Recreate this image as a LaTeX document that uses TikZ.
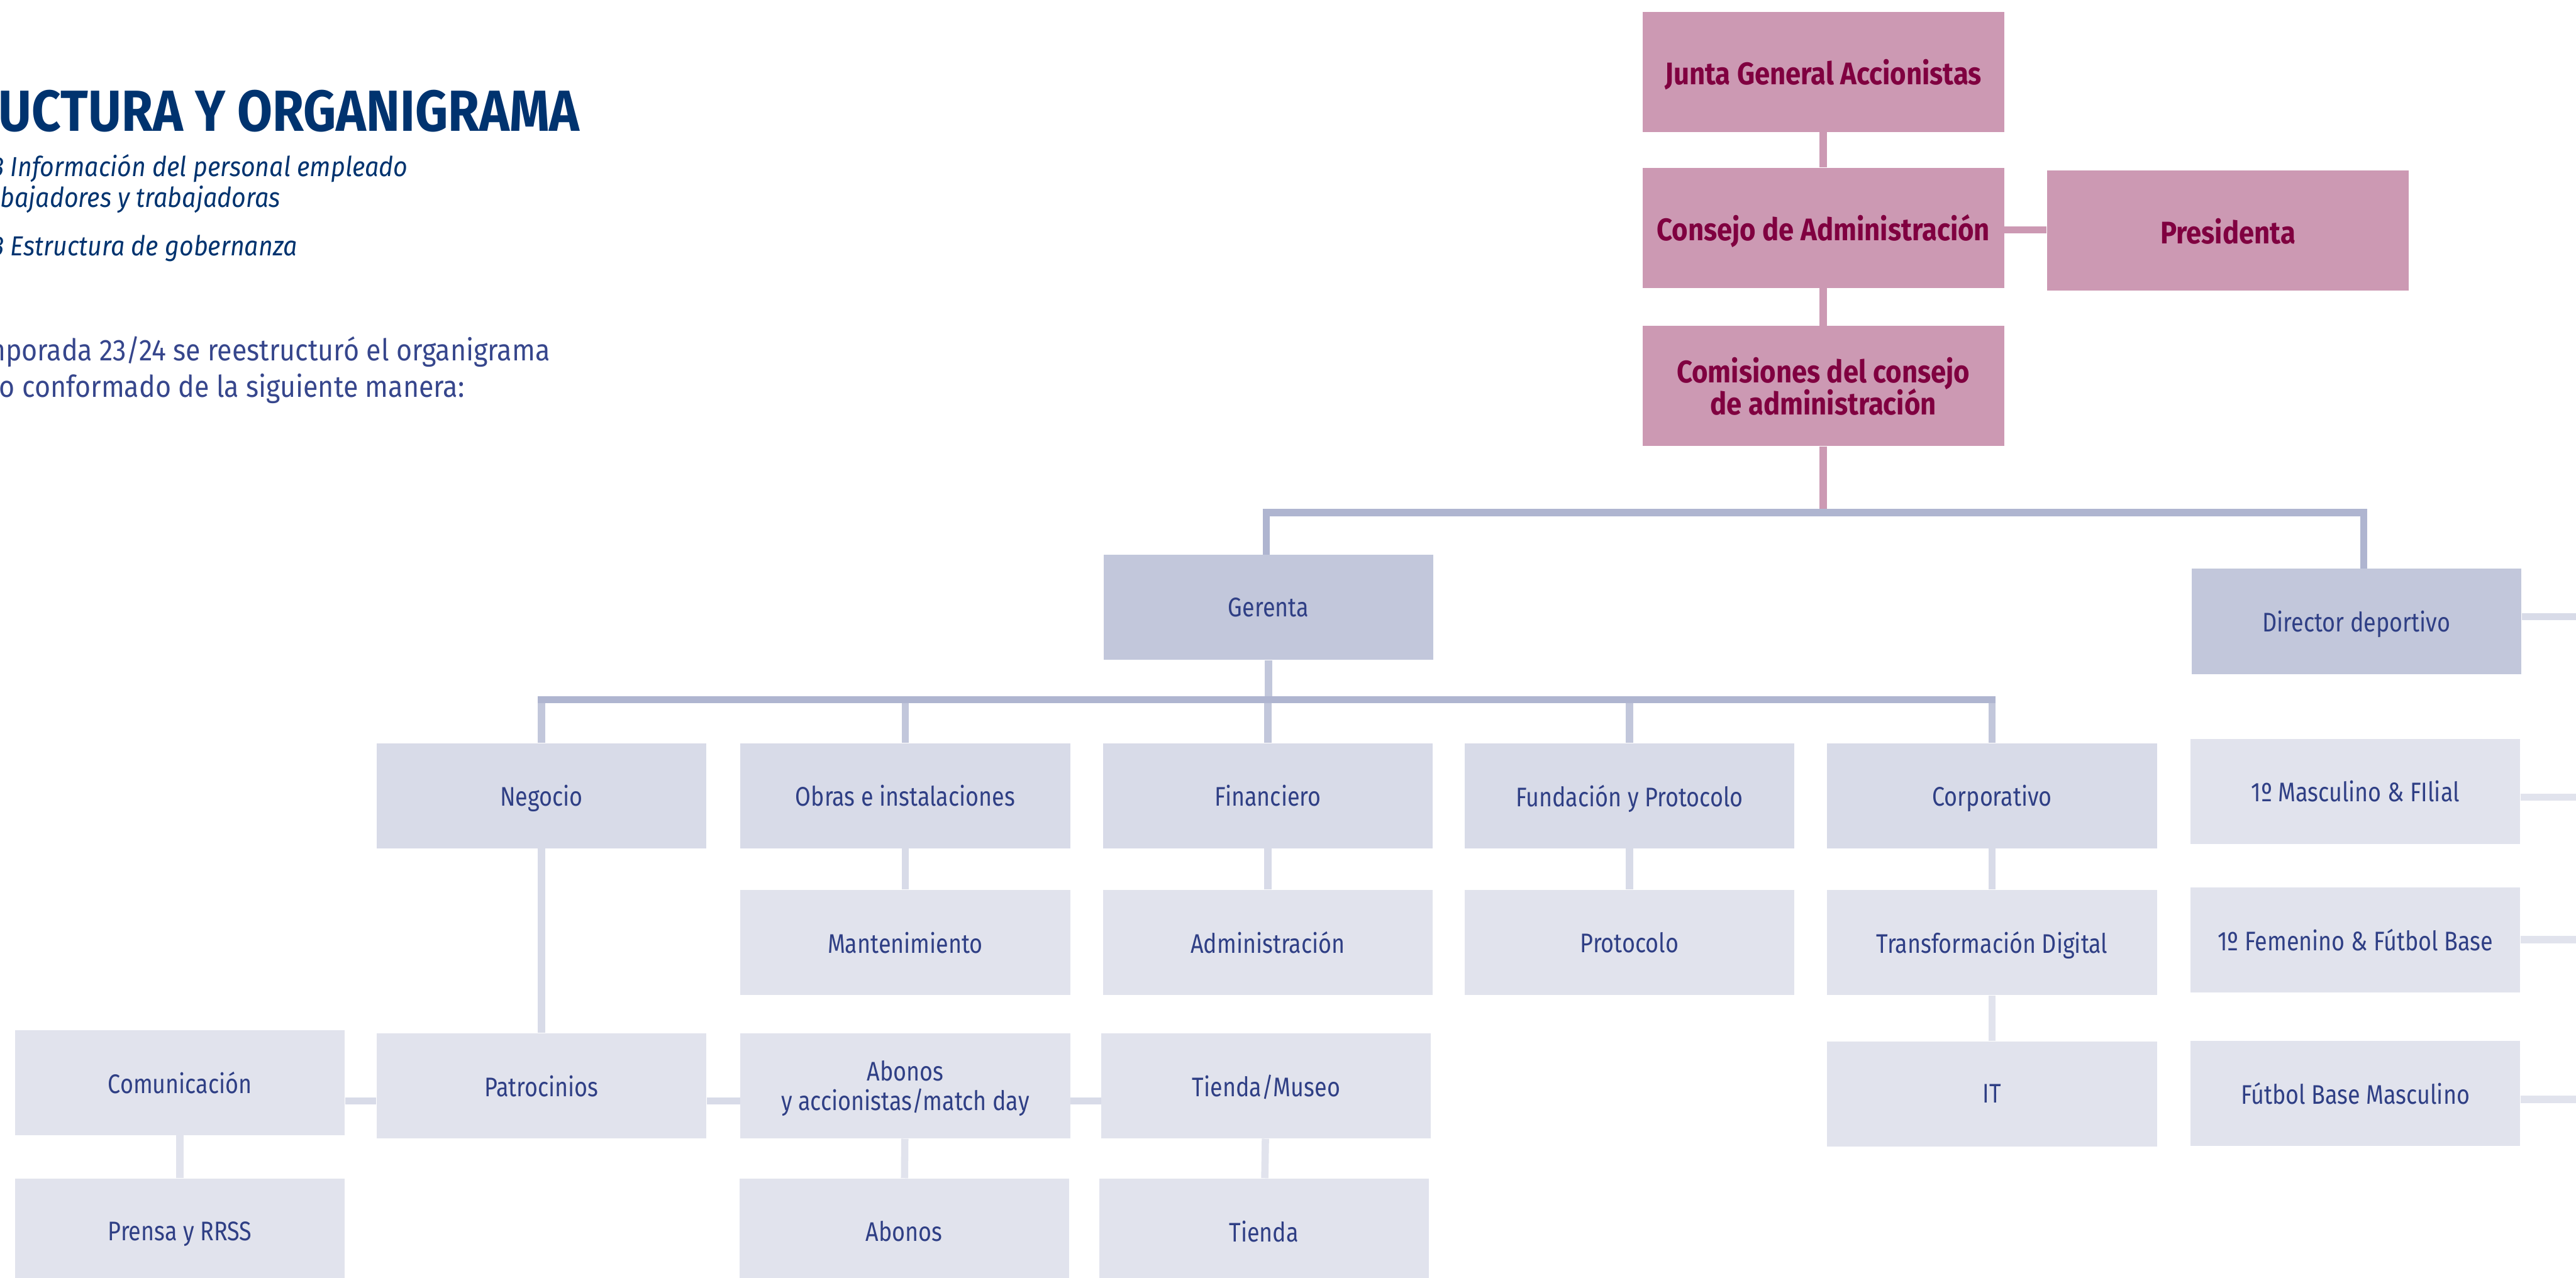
\documentclass[tikz,border=0pt]{standalone}
\usepackage{fontspec}
\setmainfont{Fira Sans}
\newfontfamily\boxfont[FakeStretch=0.84]{Fira Sans}
\newfontfamily\headfont[FakeStretch=0.88]{Fira Sans}
\newfontfamily\parafont[FakeStretch=0.90]{Fira Sans}
\usepackage{tikz}
\usetikzlibrary{calc}

\definecolor{colNavy}{HTML}{00336F}
\definecolor{colText}{HTML}{2F3F85}
\definecolor{colPar}{HTML}{36468C}
\definecolor{colRose}{HTML}{CC99B3}
\definecolor{colRoseText}{HTML}{800040}
\definecolor{colTop}{HTML}{C2C7DB}
\definecolor{colMid}{HTML}{D8DBE8}
\definecolor{colLow}{HTML}{E1E3ED}
\definecolor{colBar}{HTML}{AFB5D0}

\begin{document}
\begin{tikzpicture}[
    box/.style={fill=colLow, minimum width=5.9cm, minimum height=1.88cm, inner sep=0pt,
        text depth=-0.12cm, text=colText, align=center,
        font=\boxfont\fontsize{13.7}{15}\selectfont},
    midbox/.style={box, fill=colMid},
    topbox/.style={box, fill=colTop},
    pinkbox/.style={box, fill=colRose, minimum width=6.47cm, minimum height=2.15cm,
        text depth=-0.18cm, text=colRoseText,
        font=\headfont\bfseries\fontsize{15.9}{15}\selectfont},
    lefttext/.style={anchor=base west, inner sep=0pt, text=colNavy},
    link/.style={line width=0.13cm, draw=#1},
    link/.default=colTop]

    \useasboundingbox (0,0) rectangle (46.10,-22.87);
    \clip (0,0) rectangle (46.10,-22.87);

    % the texts on the left
    \node[lefttext, font=\headfont\bfseries\fontsize{29.5}{32}\selectfont] (titulo) at (-0.03,-2.35) {UCTURA Y ORGANIGRAMA};
    \node[lefttext, font=\parafont\itshape\fontsize{14}{16}\selectfont] (sub1) at (-0.15,-3.16) {3 Información del personal empleado};
    \node[lefttext, font=\parafont\itshape\fontsize{14}{16}\selectfont] (sub2) at (0,-3.71) {bajadores y trabajadoras};
    \node[lefttext, font=\parafont\itshape\fontsize{14}{16}\selectfont] (sub3) at (-0.15,-4.57) {3 Estructura de gobernanza};
    \node[lefttext, text=colPar, font=\parafont\fontsize{15.3}{18}\selectfont] (par1) at (-0.32,-6.46) {mporada 23/24 se reestructuró el organigrama};
    \node[lefttext, text=colPar, font=\parafont\fontsize{15.3}{18}\selectfont] (par2) at (-0.02,-7.11) {o conformado de la siguiente manera:};

    % the governing bodies
    \node[pinkbox] (junta) at (32.63,-1.285) {Junta General Accionistas};
    \node[pinkbox] (consejo) at (32.63,-4.075) {Consejo de Administración};
    \node[pinkbox, text depth=0pt] (presidenta) at (39.87,-4.13) {Presidenta};
    \node[pinkbox] (comisiones) at (32.63,-6.91) {Comisiones del consejo\\[-1.6pt]de administración};

    % the two heads
    \node[topbox] (gerenta) at (22.70,-10.87) {Gerenta};
    \node[topbox] (director) at (42.17,-11.12) {Director deportivo};

    % the areas under the gerenta
    \node[midbox] (negocio) at (9.69,-14.24) {Negocio};
    \node[midbox] (obras) at (16.20,-14.24) {Obras e instalaciones};
    \node[midbox] (financiero) at (22.69,-14.24) {Financiero};
    \node[midbox] (fundacion) at (29.16,-14.24) {Fundación y Protocolo};
    \node[midbox] (corporativo) at (35.65,-14.24) {Corporativo};
    %
    \node[box] (mantenimiento) at (16.20,-16.865) {Mantenimiento};
    \node[box] (administracion) at (22.69,-16.865) {Administración};
    \node[box] (protocolo) at (29.16,-16.865) {Protocolo};
    \node[box] (transformacion) at (35.65,-16.865) {Transformación Digital};
    \node[box] (it) at (35.65,-19.575) {IT};
    %
    \node[box] (comunicacion) at (3.22,-19.37) {Comunicación};
    \node[box] (patrocinios) at (9.69,-19.43) {Patrocinios};
    \node[box] (abonosacc) at (16.20,-19.43) {Abonos\\y accionistas/match day};
    \node[box] (tiendamuseo) at (22.66,-19.43) {Tienda/Museo};
    \node[box] (prensa) at (3.22,-22.03) {Prensa y RRSS};
    \node[box] (abonos) at (16.18,-22.03) {Abonos};
    \node[box] (tienda) at (22.62,-22.03) {Tienda};

    % the sports side
    \node[box] (masculino) at (42.15,-14.16) {1º Masculino \& FIlial};
    \node[box] (femenino) at (42.15,-16.815) {1º Femenino \& Fútbol Base};
    \node[box] (fbmasc) at (42.15,-19.565) {Fútbol Base Masculino};

    % draw the pink links
    \draw[link=colRose] (junta) -- (consejo);
    \draw[link=colRose] (consejo) -- (comisiones);
    \draw[link=colRose] ([yshift=-0.04cm]consejo.east) -- ([yshift=-0.04cm]consejo.east -| presidenta.west);
    \coordinate (topbar) at (32.63,-9.17);
    \draw[link=colRose] (comisiones) -- (topbar);

    % the upper bar
    \draw[link=colBar] ([xshift=-0.04cm]gerenta.north) |- (topbar) -| ([xshift=0.13cm]director.north);

    % the bar under the gerenta
    \coordinate (midbar) at (22.70,-12.52);
    \draw[link] (gerenta) -- (gerenta |- midbar);
    \foreach \n in {negocio,obras,financiero,fundacion,corporativo}
        \draw[link] (\n |- midbar) -- (\n);
    \draw[link=colBar, line cap=rect] (negocio |- midbar) -- (corporativo |- midbar);

    % the links further down
    \draw[link=colMid] (negocio) -- (patrocinios);
    \draw[link=colMid] (obras) -- (mantenimiento);
    \draw[link=colMid] (financiero) -- (administracion);
    \draw[link=colMid] (fundacion) -- (protocolo);
    \draw[link=colMid] (corporativo) -- (transformacion);
    \draw[link=colLow] (transformacion) -- (it);
    \draw[link=colLow] (comunicacion) -- (prensa);
    \draw[link=colLow] (abonosacc) -- (abonos);
    \draw[link=colLow] (tiendamuseo) -- (tienda);

    \coordinate (lowline) at (0,-19.70);
    \draw[link=colMid] (comunicacion.east |- lowline) -- (patrocinios.west |- lowline);
    \draw[link=colMid] (patrocinios.east |- lowline) -- (abonosacc.west |- lowline);
    \draw[link=colMid] (abonosacc.east |- lowline) -- (tiendamuseo.west |- lowline);

    % the lines leaving on the right
    \draw[link=colMid] ([yshift=0.085cm]director.east) -- ++(1,0);
    \draw[link=colLow] ([yshift=-0.105cm]masculino.east) -- ++(1,0);
    \draw[link=colLow] (femenino.east) -- ++(1,0);
    \draw[link=colLow] ([yshift=-0.11cm]fbmasc.east) -- ++(1,0);
\end{tikzpicture}
\end{document}
